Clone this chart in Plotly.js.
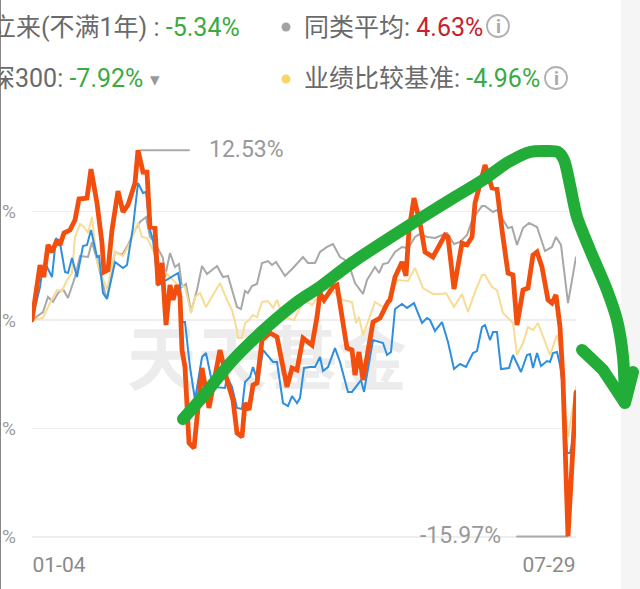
<!DOCTYPE html>
<html><head><meta charset="utf-8">
<script src="https://cdn.plot.ly/plotly-3.0.1.min.js"></script>
<style>html,body{margin:0;padding:0;background:#fff;overflow:hidden}#c{width:640px;height:589px}.js-line{stroke-linecap:round}</style>
</head><body><div id="c"></div>
<script>
const fundT=[0,8,10,12,16,20,25,28,32,38,43,47,55,59,65,70,72,76,80,86,91,96,103,106,111,115,118,123,126,130,134,138,141,145,148,150,153,157,162,170,177,188,195,201,205,210,213,217,221,225,230,238,245,255,260,265,271,280,285,288,292,301,305,311,315,320,323,327,331,341,348,356,358,363,370,374,377,382,388,393,401,413,416,422,430,435,440,443,453,460,465,470,476,481,485,491,496,501,505,510,516,520,524,528,531,536,544];
const fundVal=[0,4.06,3.32,3.32,5.54,5.02,5.9,5.54,6.42,6.64,7.38,8.93,9.0,11.14,8.63,5.68,3.54,3.69,6.64,9.52,7.97,8.49,10.11,12.53,10.92,10.92,6.86,6.79,2.58,4.21,-0.37,2.58,1.48,2.58,1.7,-2.21,-3.47,-9.08,-9.45,-3.54,-6.49,-2.21,-4.43,-5.9,-8.34,-8.63,-6.13,-6.64,-4.8,-4.65,-1.48,-0.96,-1.25,-4.94,-3.54,-3.69,-1.33,-1.85,0.22,1.99,1.48,2.44,2.58,0,-2.07,-2.21,-4.06,-2.36,-4.43,-0.15,0.15,1.33,1.48,3.17,4.28,3.25,6.64,9.0,7.16,5.02,4.65,6.27,6.13,2.29,5.68,5.54,6.13,8.63,11.44,9.74,9.67,6.64,3.47,3.32,-0.37,2.21,2.36,4.8,5.02,3.91,1.48,1.25,1.85,-0.52,-4.43,-15.97,-5.34];
const hs300T=[0,8,10,13,20,24,28,33,36,40,45,51,55,59,65,67,71,75,83,91,95,101,106,111,114,118,121,126,146,148,150,153,158,163,170,174,181,193,195,200,205,210,213,218,221,226,231,241,245,251,256,260,265,268,272,278,283,288,291,296,303,308,316,320,329,332,341,351,355,359,363,370,375,382,390,395,398,403,410,416,422,428,434,441,445,450,453,458,461,465,469,477,481,489,495,498,501,505,509,515,518,521,525,528,531,535,538,544];
const hs300Val=[0,2.44,3.47,4.21,3.17,6.05,5.68,3.54,3.47,4.58,3.17,5.46,5.54,6.64,4.65,4.72,1.99,1.55,4.28,3.84,4.06,6.86,10.11,9.37,9.45,6.64,5.9,2.58,3.47,2.73,-0.15,-0.15,-3.47,-5.9,-2.73,-2.44,-4.94,-5.02,-4.21,-4.94,-6.49,-6.57,-4.58,-4.21,-3.47,-4.58,-2.21,-3.1,-3.1,-6.13,-6.35,-5.61,-6.13,-5.76,-3.54,-3.47,-3.47,-2.73,-3.76,-3.47,-2.07,-3.1,-5.31,-5.31,-4.43,-5.31,-1.48,-1.7,-2.58,-2.36,0.81,1.18,0.89,1.25,-0.22,0.15,0,-0.81,-0.15,-1.62,-3.62,-3.25,-3.47,-2.44,-2.29,-0.52,-0.37,-1.48,-0.89,-0.89,-3.62,-3.54,-2.58,-3.84,-2.58,-2.51,-3.54,-2.44,-3.4,-3.03,-3.1,-2.44,-2.36,-3.32,-4.94,-9.82,-9.82,-7.92];
const peerT=[0,11,16,21,26,31,36,43,48,56,60,65,73,75,81,83,90,96,103,108,114,118,123,131,133,138,143,147,150,154,159,165,170,175,185,191,196,205,209,213,216,220,225,230,236,240,244,253,261,271,276,283,288,295,301,308,313,318,323,331,335,343,347,351,356,363,370,376,383,388,395,403,415,422,428,435,441,450,453,461,465,470,476,480,485,491,497,505,513,520,524,529,536,544];
const peerVal=[0,0.59,1.7,1.33,1.99,2.29,1.62,3.17,4.72,4.65,5.76,4.43,1.99,1.62,4.21,5.02,4.8,5.54,6.64,7.23,7.6,6.13,5.68,4.58,3.17,4.94,3.91,4.13,2.44,2.66,0.59,2.21,3.99,3.4,3.99,3.17,3.25,0.96,0.81,2.14,1.99,2.51,2.66,4.21,4.35,4.06,4.28,3.25,3.84,4.65,4.21,4.21,5.02,5.39,5.61,4.65,4.43,3.84,2.73,1.92,2.95,3.91,3.47,4.13,4.21,5.02,5.39,5.31,6.13,6.35,6.13,6.05,6.42,5.61,5.76,6.27,7.53,8.41,8.41,7.97,8.12,7.53,6.79,6.86,5.54,6.79,7.16,6.86,5.09,5.39,6.13,5.54,1.25,4.63];
const benchT=[0,11,18,25,30,35,40,43,48,52,56,60,65,71,75,83,91,98,106,110,115,120,131,146,153,159,163,168,174,188,195,200,205,206,210,213,217,221,225,230,236,241,245,251,262,272,280,292,300,308,311,320,324,327,331,343,351,360,365,376,383,391,401,410,414,422,430,436,443,450,453,460,465,471,481,485,491,496,501,506,515,518,525,528,531,536,544];
const benchVal=[0,0.15,1.25,2.21,2.14,2.95,3.47,6.13,7.08,6.86,6.42,7.6,4.28,2.95,2.21,5.02,4.72,5.68,7.16,6.13,6.05,5.31,3.69,2.58,2.44,0.52,1.7,1.99,0.96,2.73,1.48,0.74,-0.74,-1.33,-1.33,-0.22,0,0.37,0.22,1.33,1.4,0.89,1.48,0.22,0,1.48,1.11,2.36,2.21,1.62,1.48,1.33,-0.22,0.22,-1.11,1.33,0.96,1.85,2.95,2.88,3.84,2.36,1.92,1.92,1.99,0.96,1.92,0.59,2.07,3.32,3.32,2.44,2.21,0.52,-0.22,-2.58,-1.7,-0.52,-0.74,-0.22,-1.99,-2.58,-1.11,-1.99,-4.94,-8.63,-4.96];
const strokeT=[151,168,201,235,268,288,321,381,421,451,475,498,513,526,532,538,545,558,575,585,591,593];
const strokeVal=[-7.31,-5.9,-2.95,-0.52,1.48,2.44,4.28,7.16,9.0,10.33,11.59,12.4,12.47,12.4,11.81,9.96,7.6,5.17,2.21,0,-2.73,-6.13];
const arrowT=[601,593,571,550];
const arrowVal=[-3.84,-6.13,-3.69,-2.21];
const yTicks=[8,0,-8,-16];
const yTickText=['%','%','%','%'];
const xTicks=[27,517];
const xTickText=['01-04','07-29'];
const maxVal=12.53, minVal=-15.97;

const font='Roboto, "Noto Sans CJK SC", sans-serif';
const X=p=>(p-32)/608, Y=p=>(545-p)/405;
const yRange=[-16.605,13.284];
const ln=(x,y,color,width,extra)=>Object.assign({x,y,type:'scatter',mode:'lines',line:{color,width,shape:'linear'},hoverinfo:'skip',showlegend:false},extra||{});
const traces=[
 {x:[235],y:[-3.47],type:'scatter',mode:'text',text:['天天基金'],textposition:'middle center',textfont:{family:'"Noto Sans CJK SC"',size:70,color:'#ececec',weight:700},hoverinfo:'skip',showlegend:false},
 ln(peerT,peerVal,'#a8a8a8',2),
 ln(benchT,benchVal,'#f8dc96',2),
 ln(hs300T,hs300Val,'#2f8fdf',2),
 ln([109,157],[maxVal,maxVal],'#aaaaaa',2),
 ln([485,535],[minVal,minVal],'#aaaaaa',2),
 ln(fundT,fundVal,'#f24e0e',4.8),
 {x:strokeT,y:strokeVal,xaxis:'x2',yaxis:'y2',type:'scatter',mode:'lines',line:{color:'#22ad38',width:12,shape:'spline',smoothing:0.8},hoverinfo:'skip',showlegend:false},
 ln(arrowT,arrowVal,'#22ad38',12,{xaxis:'x2',yaxis:'y2'})
];
const txt=(x,y,text,anchor,size,color)=>({xref:'paper',yref:'paper',x:X(x),y:Y(y),text,showarrow:false,xanchor:anchor,yanchor:'middle',font:{family:font,size,color},borderpad:0});
const G='#3aaa42',R='#c8202c',C='#6a6a6a';
const annotations=[
 txt(241,27,`<span style="color:${C}">立来(不满1年) : </span><span style="color:${G}">-5.34%</span>`,'right',25,C),
 txt(144,78,`<span style="color:${C}">深300: </span><span style="color:${G}">-7.92%</span>`,'right',25,C),
 txt(155,79,'▾','center',19,'#999999'),
 txt(303,27,`<span style="color:${C}">同类平均: </span><span style="color:${R}">4.63%</span>`,'left',25,C),
 txt(303,78,`<span style="color:${C}">业绩比较基准: </span><span style="color:${G}">-4.96%</span>`,'left',25,C),
 txt(498,26,'<b>i</b>','center',19,'#a8a8a8'),
 txt(556,78,'<b>i</b>','center',19,'#a8a8a8'),
 txt(208,149,'12.53%','left',23,'#999999'),
 txt(502,535,'-15.97%','right',23,'#999999')
];
const circ=(cx,cy,r,fill,line,w)=>({type:'circle',xref:'paper',yref:'paper',x0:X(cx-r),x1:X(cx+r),y0:Y(cy+r),y1:Y(cy-r),fillcolor:fill,line:{color:line,width:w},layer:'above'});
const shapes=[
 {type:'rect',xref:'paper',yref:'paper',x0:X(621),x1:X(641),y0:Y(590),y1:Y(-1),fillcolor:'#f5f5f5',line:{width:0},layer:'below'},
 {type:'rect',xref:'paper',yref:'paper',x0:X(-1),x1:X(1),y0:Y(590),y1:Y(-1),fillcolor:'#888888',line:{width:0},layer:'below'},
 circ(286,27,4.5,'#a3a3a3','#a3a3a3',0),
 circ(286,79,4.5,'#fbd468','#fbd468',0),
 circ(498,26,11,'rgba(0,0,0,0)','#b0b0b0',1.8),
 circ(556,78,11,'rgba(0,0,0,0)','#b0b0b0',1.8)
];
const layout={
 width:640,height:589,paper_bgcolor:'#ffffff',plot_bgcolor:'rgba(0,0,0,0)',
 margin:{l:32,r:0,t:140,b:44,pad:0},showlegend:false,hovermode:false,
 font:{family:font},
 xaxis:{domain:[0,544/608],range:[0,544],tickmode:'array',tickvals:xTicks,ticktext:xTickText,showgrid:false,zeroline:false,showline:false,ticks:'',tickfont:{size:21,color:'#8a8a8a',family:font},ticklabelstandoff:5},
 yaxis:{range:yRange,tickmode:'array',tickvals:yTicks,ticktext:yTickText,showgrid:true,gridcolor:'#eeeeee',gridwidth:1.5,zeroline:false,showline:false,ticks:'',tickfont:{size:19,color:'#999999',family:font},ticklabelstandoff:15},
 xaxis2:{domain:[0,1],range:[0,608],anchor:'y2',visible:false},
 yaxis2:{domain:[0,1],range:yRange,anchor:'x2',visible:false},
 annotations,shapes
};
Plotly.newPlot('c',traces,layout,{displayModeBar:false,staticPlot:true});
</script></body></html>
